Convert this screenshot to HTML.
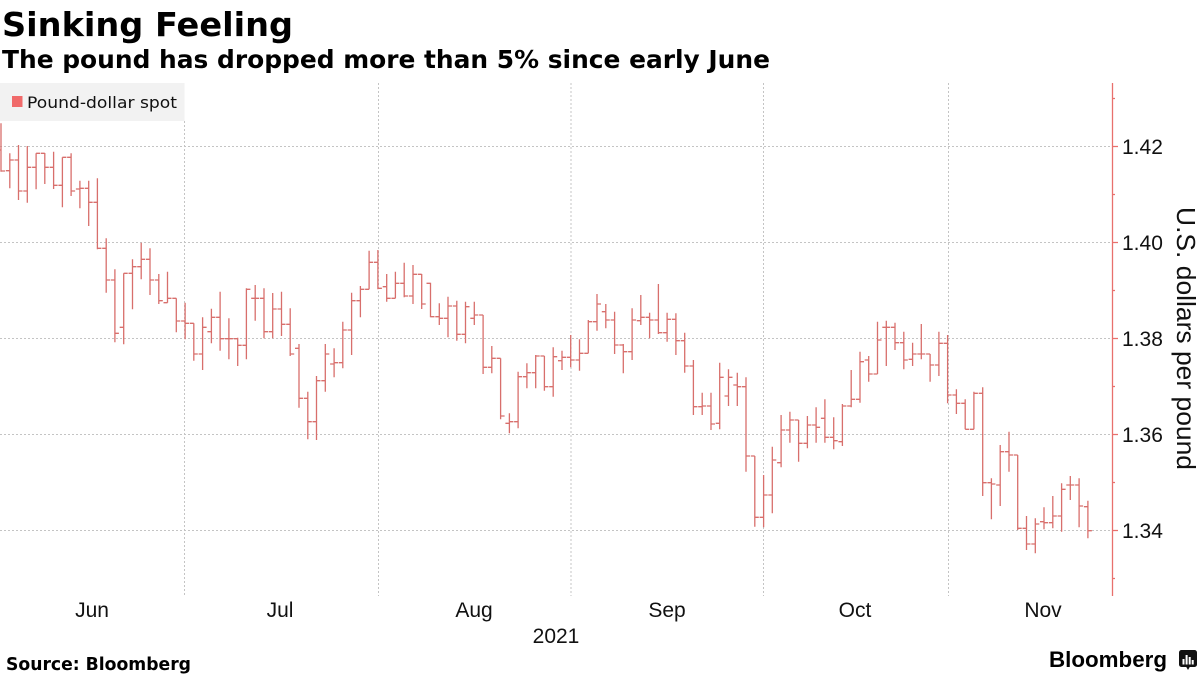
<!DOCTYPE html>
<html>
<head>
<meta charset="utf-8">
<style>
html,body{margin:0;padding:0;background:#fff;}
body{width:1200px;height:675px;overflow:hidden;}
svg{display:block;}
</style>
</head>
<body>
<svg width="1200" height="675" viewBox="0 0 1200 675" xmlns="http://www.w3.org/2000/svg">
<rect x="0" y="0" width="1200" height="675" fill="#ffffff"/>
<text x="2" y="36" font-family="DejaVu Sans, sans-serif" font-weight="bold" font-size="33" fill="#000" textLength="291" lengthAdjust="spacingAndGlyphs">Sinking Feeling</text>
<text x="2" y="68" font-family="DejaVu Sans, sans-serif" font-weight="bold" font-size="25" fill="#000" textLength="768" lengthAdjust="spacingAndGlyphs">The pound has dropped more than 5% since early June</text>
<rect x="0" y="83" width="184.5" height="38" fill="#f2f2f2"/>
<rect x="12" y="96" width="10.5" height="11" fill="#f06a6a"/>
<text x="27" y="108" font-family="DejaVu Sans, sans-serif" font-size="16" fill="#111" textLength="150" lengthAdjust="spacingAndGlyphs">Pound-dollar spot</text>
<g stroke="#c4c4c4" stroke-width="1" stroke-dasharray="2,2" fill="none">
<path d="M0 146.5H1112M0 242.5H1112M0 338.5H1112M0 434.5H1112M0 530.5H1112"/>
<path d="M184.5 121V596M378.5 83V596M571 83V596M763.5 83V596M948.5 83V596"/>
</g>
<path fill="none" stroke="#d86f6c" stroke-width="1.3" d="M1 123.3V171.7M-3 150h4M1 171h4 M9.8 153.3V188.3M5.8 170.7h4M9.8 160h4 M18.5 145V200M14.5 160h4M18.5 191h4 M27.3 146V202.7M23.3 191h4M27.3 167.3h4 M36.1 153.3V189.3M32.1 167.3h4M36.1 153.3h4 M44.8 153V184M40.8 153.3h4M44.8 167.3h4 M53.6 151.7V189M49.6 167.3h4M53.6 185.3h4 M62.4 157.3V207.3M58.4 185.3h4M62.4 157.3h4 M71.1 153.3V196M67.1 157.3h4M71.1 191h4 M79.9 180.7V208.3M75.9 189h4M79.9 188.3h4 M88.7 180.7V226M84.7 188.3h4M88.7 202.3h4 M97.4 178.3V249.3M93.4 202.3h4M97.4 248.3h4 M106.2 238.3V292.7M102.2 248.3h4M106.2 280h4 M114.9 269.3V342.3M110.9 280h4M114.9 333.3h4 M123.7 273.3V344.3M119.7 327.3h4M123.7 273.3h4 M132.5 259.3V309.3M128.5 273.3h4M132.5 266.7h4 M141.2 242.7V279.3M137.2 266.7h4M141.2 259.3h4 M150 248.3V295M146 259.3h4M150 280h4 M158.8 274V304M154.8 280h4M158.8 300.7h4 M167.5 271.7V302.7M163.5 302.7h4M167.5 298.3h4 M176.3 298.3V332.3M172.3 298.3h4M176.3 321h4 M185.1 302.7V339.3M181.1 321h4M185.1 323.3h4 M193.8 323.3V360.7M189.8 323.3h4M193.8 354h4 M202.6 317.3V370M198.6 354h4M202.6 327.3h4 M211.4 308.7V343.3M207.4 331.7h4M211.4 317.3h4 M220.1 291.7V350.7M216.1 317.3h4M220.1 338.7h4 M228.9 318.3V359.3M224.9 338.7h4M228.9 338.7h4 M237.7 337.7V366M233.7 338.7h4M237.7 345.3h4 M246.4 288.3V359.3M242.4 345.3h4M246.4 289.3h4 M255.2 285V320.7M251.2 298.3h4M255.2 298.3h4 M264 288.3V338.3M260 298.3h4M264 331.7h4 M272.7 293V338.3M268.7 331.7h4M272.7 309h4 M281.5 291.7V336M277.5 309h4M281.5 324.3h4 M290.2 308.3V356M286.2 324.3h4M290.2 354h4 M299 344V407.7M295 348.3h4M299 398.3h4 M307.8 391.7V439.3M303.8 398.3h4M307.8 421.7h4 M316.5 376V440M312.5 421.7h4M316.5 380.7h4 M325.3 344V391.7M321.3 380.7h4M325.3 354h4 M334.1 348.3V377.3M330.1 364h4M334.1 362.7h4 M342.8 321.7V368.3M338.8 362.7h4M342.8 330h4 M351.6 292.7V355M347.6 330h4M351.6 300.7h4 M360.4 286V317.3M356.4 300.7h4M360.4 289.3h4 M369.1 250.7V289.3M365.1 289.3h4M369.1 262.3h4 M377.9 250V289.3M373.9 262.3h4M377.9 288.3h4 M386.7 274V301.7M382.7 286.7h4M386.7 298.3h4 M395.4 271.7V298.3M391.4 298.3h4M395.4 283.3h4 M404.2 262.7V297.3M400.2 283.3h4M404.2 296h4 M413 265V304M409 296h4M413 274.3h4 M421.7 274V309M417.7 274.3h4M421.7 304h4 M430.5 282.7V317.3M426.5 283.3h4M430.5 316.7h4 M439.3 303.3V325M435.3 316.7h4M439.3 318.3h4 M448 296.7V337.3M444 318.3h4M448 306h4 M456.8 300.7V340.7M452.8 306h4M456.8 334.3h4 M465.5 301.7V343.3M461.5 334.3h4M465.5 306.7h4 M474.3 301.7V325M470.3 318.3h4M474.3 315h4 M483.1 315V374M479.1 315h4M483.1 367.3h4 M491.8 346V373.3M487.8 367.3h4M491.8 358.3h4 M500.6 358.3V419.3M496.6 358.3h4M500.6 416h4 M509.4 413.3V433.3M505.4 423.3h4M509.4 421.7h4 M518.1 371.7V428.3M514.1 421.7h4M518.1 376.7h4 M526.9 363.3V388.3M522.9 376.7h4M526.9 372.7h4 M535.7 355V388.3M531.7 372.7h4M535.7 356h4 M544.4 356V390.7M540.4 356h4M544.4 386.7h4 M553.2 347.3V396.7M549.2 386.7h4M553.2 356.7h4 M562 350.7V370M558 360.7h4M562 357.3h4 M570.7 335V367.3M566.7 357.3h4M570.7 360h4 M579.5 339.3V370.7M575.5 360h4M579.5 353.3h4 M588.3 320V353.3M584.3 353.3h4M588.3 321.7h4 M597 294V330.7M593 321.7h4M597 304h4 M605.8 304V328.3M601.8 311.7h4M605.8 320h4 M614.6 311.7V354M610.6 320h4M614.6 345h4 M623.3 344V373.3M619.3 345h4M623.3 351.7h4 M632.1 308.3V360M628.1 351.7h4M632.1 320h4 M640.8 295V325M636.8 320.7h4M640.8 317.3h4 M649.6 312.7V338.3M645.6 317.3h4M649.6 320h4 M658.4 284V334M654.4 320h4M658.4 332.7h4 M667.1 312.7V341.7M663.1 332.7h4M667.1 319.3h4 M675.9 313.3V355M671.9 319.3h4M675.9 340.7h4 M684.7 332.7V372.7M680.7 340.7h4M684.7 366h4 M693.4 360V415M689.4 366h4M693.4 406.7h4 M702.2 392.7V415M698.2 406.7h4M702.2 406h4 M711 392.7V430M707 406h4M711 424h4 M719.7 362.7V429.3M715.7 423.3h4M719.7 377.3h4 M728.5 369.3V406M724.5 396h4M728.5 377.3h4 M737.3 372.7V406M733.3 385h4M737.3 386.7h4 M746 377.3V471.7M742 386.7h4M746 456h4 M754.8 456V526.7M750.8 456h4M754.8 517.3h4 M763.6 475V527.3M759.6 517.3h4M763.6 495h4 M772.3 446.7V513.3M768.3 495h4M772.3 460h4 M781.1 415V467.3M777.1 462.7h4M781.1 430h4 M789.9 411.7V442.7M785.9 430h4M789.9 420h4 M798.6 420V461.7M794.6 420h4M798.6 443.3h4 M807.4 416V448.3M803.4 443.3h4M807.4 425h4 M816.1 407.3V442.7M812.1 425h4M816.1 427.3h4 M824.9 399.3V442.7M820.9 418.3h4M824.9 437.3h4 M833.7 417.3V449.3M829.7 437.3h4M833.7 440.7h4 M842.4 404V446M838.4 441.7h4M842.4 406h4 M851.2 370V407.3M847.2 406h4M851.2 399.3h4 M860 351.7V402.7M856 399.3h4M860 361.7h4 M868.7 356V381.7M864.7 360h4M868.7 374h4 M877.5 321.7V374M873.5 374h4M877.5 340h4 M886.3 320.7V366M882.3 327.3h4M886.3 327.3h4 M895 322.7V350M891 327.3h4M895 342.7h4 M903.8 331.7V369.3M899.8 342.7h4M903.8 360h4 M912.6 342.7V366M908.6 359.3h4M912.6 354h4 M921.3 324V359.3M917.3 354h4M921.3 354h4 M930.1 354V381.7M926.1 354h4M930.1 365h4 M938.9 331.7V376M934.9 365h4M938.9 343.3h4 M947.6 335V403.3M943.6 343.3h4M947.6 395h4 M956.4 389.3V414M952.4 395h4M956.4 403.3h4 M965.2 399.3V429.3M961.2 403.3h4M965.2 429.3h4 M973.9 391.7V429.3M969.9 429.3h4M973.9 393.3h4 M982.7 387.3V496M978.7 393.3h4M982.7 482.7h4 M991.4 478.3V519.3M987.4 482.7h4M991.4 484h4 M1000.2 445V506M996.2 485h4M1000.2 451.7h4 M1009 431.7V471.7M1005 451.7h4M1009 455h4 M1017.7 455V530M1013.7 455h4M1017.7 528.3h4 M1026.5 516V550M1022.5 528.3h4M1026.5 544h4 M1035.3 518.3V553.3M1031.3 544h4M1035.3 524h4 M1044 507.3V529.3M1040 521.7h4M1044 522.7h4 M1052.8 496V528.3M1048.8 522.7h4M1052.8 516h4 M1061.6 483.3V531.7M1057.6 516h4M1061.6 489.3h4 M1070.3 476V500M1066.3 485h4M1070.3 485h4 M1079.1 478.3V527.3M1075.1 485h4M1079.1 506h4 M1087.9 500.7V538.3M1083.9 506.7h4M1087.9 530.7h4"/>
<g stroke="#e8706d" stroke-width="1.3" fill="none">
<path d="M1112.5 83V596"/>
<path d="M1112 146.5h6M1112 242.5h6M1112 338.5h6M1112 434.5h6M1112 530.5h6"/>
<path d="M1112 98.5h3M1112 194.5h3M1112 290.5h3M1112 386.5h3M1112 482.5h3M1112 578.5h3"/>
</g>
<g font-family="Liberation Sans, sans-serif" font-size="21" fill="#111">
<text x="1122" y="154">1.42</text>
<text x="1122" y="250">1.40</text>
<text x="1122" y="346">1.38</text>
<text x="1122" y="442">1.36</text>
<text x="1122" y="538">1.34</text>
</g>
<text transform="translate(1177,338.5) rotate(90)" text-anchor="middle" font-family="Liberation Sans, sans-serif" font-size="26" fill="#111" textLength="263" lengthAdjust="spacingAndGlyphs">U.S. dollars per pound</text>
<g font-family="Liberation Sans, sans-serif" font-size="21" fill="#111" text-anchor="middle">
<text x="92" y="617">Jun</text>
<text x="280" y="617">Jul</text>
<text x="474" y="617">Aug</text>
<text x="667" y="617">Sep</text>
<text x="855" y="617">Oct</text>
<text x="1043" y="617">Nov</text>
<text x="556" y="643">2021</text>
</g>
<text x="6" y="670" font-family="DejaVu Sans, sans-serif" font-weight="bold" font-size="18" fill="#000" textLength="185" lengthAdjust="spacingAndGlyphs">Source: Bloomberg</text>
<text x="1049" y="667" font-family="Liberation Sans, sans-serif" font-weight="bold" font-size="22" fill="#000" textLength="118" lengthAdjust="spacingAndGlyphs">Bloomberg</text>
<rect x="1179" y="650" width="18" height="17" rx="2.5" fill="#111"/>
<path d="M1186 666.5L1188 670L1190 666.5Z" fill="#111"/>
<g fill="#fff">
<rect x="1182.5" y="659" width="2" height="5.5"/>
<rect x="1185.6" y="655" width="2" height="9.5"/>
<rect x="1188.7" y="657" width="2" height="7.5"/>
<rect x="1191.7" y="660" width="2" height="4.5"/>
</g>
</svg>
</body>
</html>
